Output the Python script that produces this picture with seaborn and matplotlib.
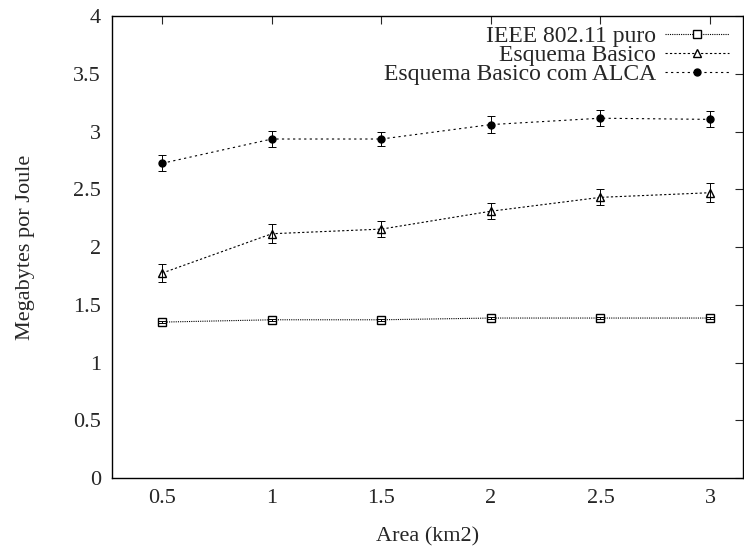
import pandas as pd
import matplotlib
matplotlib.use("Agg")
import matplotlib.pyplot as plt
import seaborn as sns

# data
area = [0.5, 1.0, 1.5, 2.0, 2.5, 3.0]
ieee = [1.35, 1.37, 1.37, 1.385, 1.385, 1.385]
basico = [1.775, 2.115, 2.155, 2.31, 2.43, 2.47]
alca = [2.725, 2.935, 2.935, 3.06, 3.115, 3.105]
ieee_err = [0.01, 0.01, 0.01, 0.01, 0.01, 0.01]
basico_err = [0.08, 0.08, 0.07, 0.07, 0.07, 0.08]
alca_err = [0.07, 0.07, 0.06, 0.07, 0.07, 0.07]
names = ["IEEE 802.11 puro", "Esquema Basico", "Esquema Basico com ALCA"]

sns.set_style("white")
plt.rcParams['font.family'] = ['Liberation Serif', 'DejaVu Serif']
plt.rcParams['font.size'] = 16

df = pd.concat([
    pd.DataFrame({'area': area, 'mbj': ieee, 'err': ieee_err, 'serie': names[0]}),
    pd.DataFrame({'area': area, 'mbj': basico, 'err': basico_err, 'serie': names[1]}),
    pd.DataFrame({'area': area, 'mbj': alca, 'err': alca_err, 'serie': names[2]}),
])

fig = plt.figure(figsize=(7.44, 5.48), dpi=100)
ax = fig.add_axes([0.1505, 0.1277, 0.848, 0.8431])

markers = {names[0]: 's', names[1]: '^', names[2]: 'o'}
styles = {names[0]: (0, (1, 1)), names[1]: (0, (2, 2)), names[2]: (0, (2, 3))}
mfc = {names[0]: 'white', names[1]: 'white', names[2]: 'black'}
msize = {names[0]: 6, names[1]: 5.5, names[2]: 5}

for name in names:
    d = df[df['serie'] == name]
    sns.lineplot(data=d, x='area', y='mbj', ax=ax, color='black', lw=0.8,
                 linestyle=styles[name], marker=markers[name],
                 markerfacecolor=mfc[name], markeredgecolor='black',
                 markersize=msize[name], markeredgewidth=1.0, label=name)
    ax.errorbar(d['area'], d['mbj'], yerr=d['err'], fmt='none', ecolor='black',
                elinewidth=0.7, capsize=3, capthick=0.7, linestyle=':')

ax.set_xlim(0.27, 3.15)
ax.set_ylim(0, 4)
ax.set_xticks(area)
ax.set_xticklabels(['0.5', '1', '1.5', '2', '2.5', '3'])
ax.set_yticks([0, 0.5, 1, 1.5, 2, 2.5, 3, 3.5, 4])
ax.set_yticklabels(['0', '0.5', '1', '1.5', '2', '2.5', '3', '3.5', '4'])
ax.tick_params(direction='in', top=True, right=True, length=6, width=0.8, pad=8,
               labelsize=16)
for s in ax.spines.values():
    s.set_linewidth(1.0)
    s.set_color('black')

ax.set_xlabel('Area (km2)', labelpad=14)
ax.set_ylabel('Megabytes por Joule', labelpad=27)

leg = ax.legend(loc='upper right', markerfirst=False, frameon=False,
                handlelength=2.7, borderaxespad=0.1, labelspacing=-0.1,
                fontsize=17, handletextpad=0.4, bbox_to_anchor=(0.997, 1.005))
for t in leg.get_texts():
    t.set_ha('right')

fig.savefig('out.png', dpi=100)
